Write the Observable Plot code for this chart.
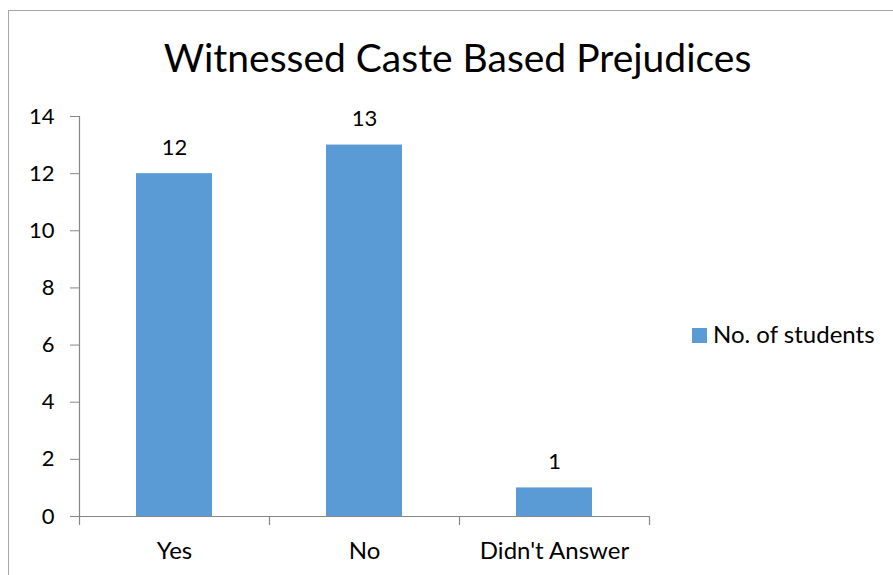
<!DOCTYPE html>
<html>
<head>
<meta charset="utf-8">
<script src="https://cdn.jsdelivr.net/npm/d3@7"></script>
<script src="https://cdn.jsdelivr.net/npm/@observablehq/plot@0.6"></script>
<style>
  html, body { margin: 0; padding: 0; background: #fff; }
  #chart { position: relative; width: 893px; height: 575px; overflow: hidden; font-family: Lato, "Open Sans", sans-serif; }
  #border { position: absolute; left: 8px; top: 10px; width: 1000px; height: 700px; border: 1px solid #a6a6a6; box-sizing: border-box; }
  #plot { position: absolute; left: 0; top: 0; }
  #title { position: absolute; left: 0; width: 915px; top: 38px; text-align: center; font-size: 39px; line-height: 39px; color: #000; white-space: nowrap; }
  #legend-swatch { position: absolute; left: 692px; top: 328px; width: 15px; height: 15px; background: #5b9bd5; }
  #legend-text { position: absolute; left: 713px; top: 322px; font-size: 24px; line-height: 24px; color: #000; white-space: nowrap; }
</style>
</head>
<body>
<div id="chart">
  <div id="border"></div>
  <div id="plot"></div>
  <div id="title">Witnessed Caste Based Prejudices</div>
  <div id="legend-swatch"></div>
  <div id="legend-text"></div>
</div>
<script>
// Survey responses: how many students have witnessed caste based prejudice
const categories = ["Yes", "No", "Didn't Answer"];
const students = [12, 13, 1];
const seriesName = "No. of students";
const yTicks = [0, 2, 4, 6, 8, 10, 12, 14];

const data = categories.map((c, i) => ({answer: c, count: students[i]}));
document.getElementById("legend-text").textContent = seriesName;

const width = 893, height = 575;
const marginLeft = 79, marginRight = 244, marginTop = 116, marginBottom = 59;
const step = (width - marginLeft - marginRight) / categories.length;
const axisColor = "#868686";
const barColor = "#5b9bd5";

const chart = Plot.plot({
  width, height, marginLeft, marginRight, marginTop, marginBottom,
  style: {fontFamily: "Lato, 'Open Sans', sans-serif", fontSize: "22px", color: "#000", background: "transparent"},
  x: {domain: categories, paddingInner: 0.6, paddingOuter: 0.3, label: null},
  y: {domain: [0, 14], label: null},
  marks: [
    Plot.barY(data, {x: "answer", y: "count", fill: barColor}),
    // value labels above each bar
    Plot.text(data, {x: "answer", y: "count", text: d => String(d.count), lineAnchor: "bottom", dy: -19, fontSize: 22, fill: "#000"}),
    // x baseline
    Plot.ruleY([0], {stroke: axisColor, strokeWidth: 1.2}),
    // y axis line at the left edge of the category band
    Plot.ruleX([categories[0]], {x: d => d, dx: -step / 2, y1: 0, y2: 14, stroke: axisColor, strokeWidth: 1.2}),
    // category boundary ticks below the baseline
    Plot.ruleX(categories, {x: d => d, dx: -step / 2, insetTop: height - marginTop - marginBottom, insetBottom: -9, stroke: axisColor, strokeWidth: 1.2}),
    Plot.ruleX([categories[categories.length - 1]], {x: d => d, dx: step / 2, insetTop: height - marginTop - marginBottom, insetBottom: -9, stroke: axisColor, strokeWidth: 1.2}),
    Plot.axisY({ticks: yTicks, tickSize: 9, tickPadding: 16, stroke: axisColor, fill: "#000", fontSize: 22, label: null}),
    Plot.axisX({tickSize: 0, tickPadding: 25, fill: "#000", fontSize: 24, label: null})
  ]
});
document.getElementById("plot").appendChild(chart);
</script>
</body>
</html>
